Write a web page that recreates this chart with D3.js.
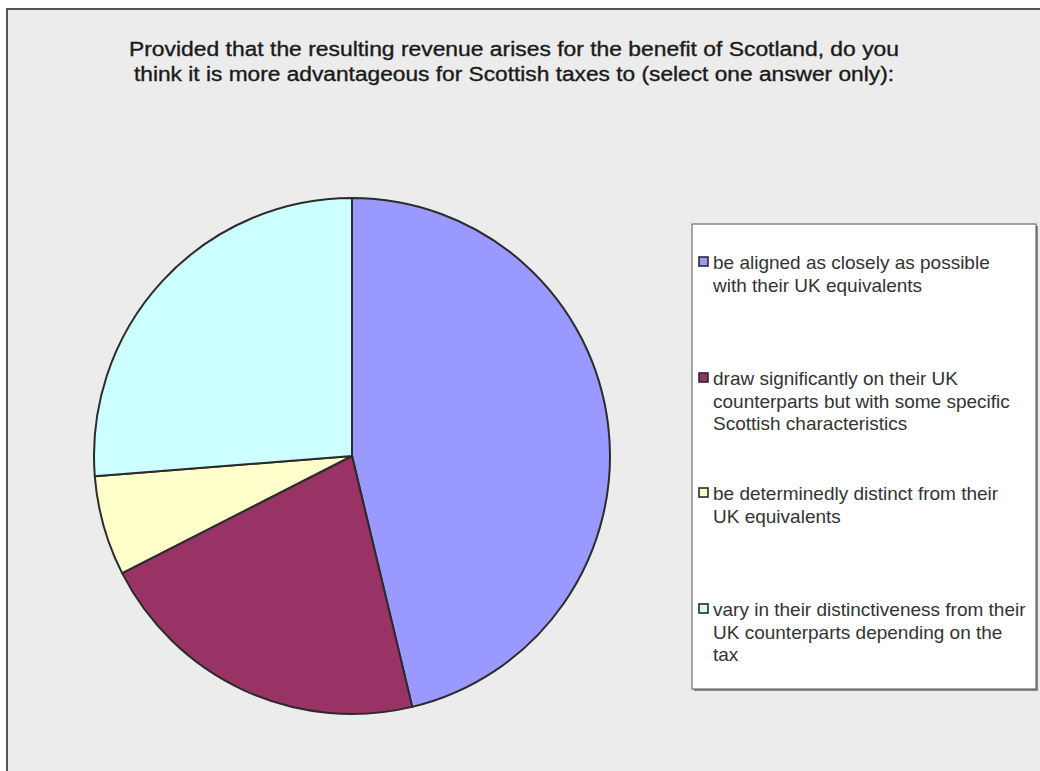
<!DOCTYPE html>
<html>
<head>
<meta charset="utf-8">
<script src="https://cdn.jsdelivr.net/npm/d3@7/dist/d3.min.js"></script>
<style>
  html, body { margin: 0; padding: 0; background: #ffffff; }
  svg { display: block; }
  text { font-family: "Liberation Sans", Arial, sans-serif; }
</style>
</head>
<body>
<svg id="chart" width="1040" height="771"></svg>
<script>
// Survey answers and responses
const categories = [
  "be aligned as closely as possible with their UK equivalents",
  "draw significantly on their UK counterparts but with some specific Scottish characteristics",
  "be determinedly distinct from their UK equivalents",
  "vary in their distinctiveness from their UK counterparts depending on the tax"
];
const legendLines = [
  ["be aligned as closely as possible", "with their UK equivalents"],
  ["draw significantly on their UK", "counterparts but with some specific", "Scottish characteristics"],
  ["be determinedly distinct from their", "UK equivalents"],
  ["vary in their distinctiveness from their", "UK counterparts depending on the", "tax"]
];
const responses = [37, 17, 5, 21];
const colors = ["#9999ff", "#993366", "#ffffcc", "#ccffff"];
const titleLines = [
  "Provided that the resulting revenue arises for the benefit of Scotland, do you",
  "think it is more advantageous for Scottish taxes to (select one answer only):"
];

const svg = d3.select("#chart");

// chart area frame
svg.append("rect")
  .attr("x", 7).attr("y", 9)
  .attr("width", 1100).attr("height", 800)
  .attr("fill", "#ececec")
  .attr("stroke", "#555555")
  .attr("stroke-width", 2);

// title
const title = svg.append("text")
  .attr("text-anchor", "middle")
  .attr("fill", "#1a1a1a")
  .attr("stroke", "#1a1a1a")
  .attr("stroke-width", 0.35)
  .attr("font-size", 20);
title.selectAll("tspan")
  .data(titleLines)
  .join("tspan")
  .attr("x", 514)
  .attr("y", (d, i) => 56 + i * 25)
  .attr("textLength", (d, i) => i === 0 ? 770 : 760)
  .attr("lengthAdjust", "spacingAndGlyphs")
  .text(d => d);

// pie
const cx = 352, cy = 456, r = 258;
const pie = d3.pie().sort(null).value(d => d);
const arc = d3.arc().innerRadius(0).outerRadius(r);

svg.append("g")
  .attr("transform", `translate(${cx},${cy})`)
  .selectAll("path")
  .data(pie(responses))
  .join("path")
  .attr("d", arc)
  .attr("fill", (d, i) => colors[i])
  .attr("stroke", "#2b2b2b")
  .attr("stroke-width", 2)
  .attr("stroke-linejoin", "round");

// legend
const lx = 692, ly = 224, lw = 344, lh = 465;
svg.append("rect")
  .attr("x", lx + 2).attr("y", ly + 2)
  .attr("width", lw).attr("height", lh)
  .attr("fill", "#8a8a8a");
svg.append("rect")
  .attr("x", lx).attr("y", ly)
  .attr("width", lw).attr("height", lh)
  .attr("fill", "#ffffff")
  .attr("stroke", "#555555")
  .attr("stroke-width", 1);

const itemY = [262, 378, 493, 609];
const items = svg.append("g")
  .selectAll("g")
  .data(categories)
  .join("g")
  .attr("transform", (d, i) => `translate(0,${itemY[i]})`);

items.append("rect")
  .attr("x", 699).attr("y", -5)
  .attr("width", 9).attr("height", 9)
  .attr("fill", (d, i) => colors[i])
  .attr("stroke", "#2b2b2b")
  .attr("stroke-width", 1.6);

items.append("text")
  .attr("fill", "#333333")
  .attr("font-size", 19)
  .selectAll("tspan")
  .data((d, i) => legendLines[i])
  .join("tspan")
  .attr("x", 713)
  .attr("y", (d, j) => 7 + j * 22.5)
  .text(d => d);
</script>
</body>
</html>
